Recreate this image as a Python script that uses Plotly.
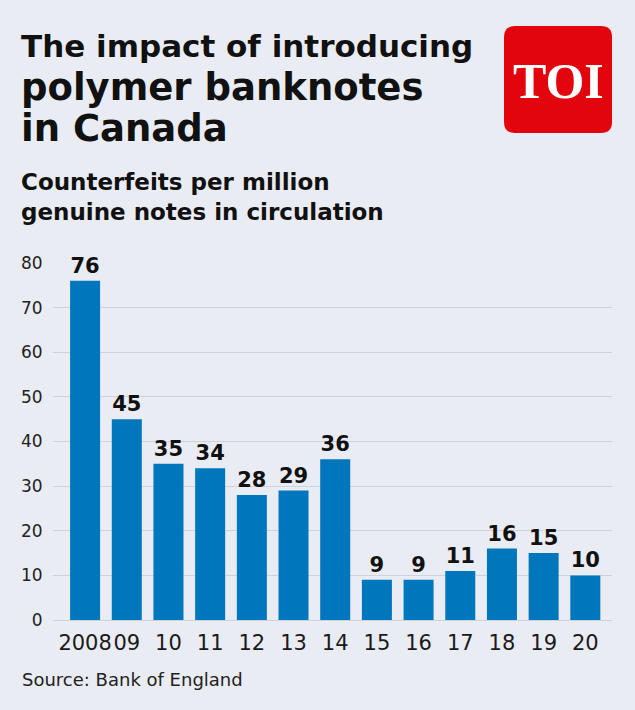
import plotly.graph_objects as go

years = ["2008", "09", "10", "11", "12", "13", "14", "15", "16", "17", "18", "19", "20"]
counterfeits = [76, 45, 35, 34, 28, 29, 36, 9, 9, 11, 16, 15, 10]
y_ticks = [0, 10, 20, 30, 40, 50, 60, 70, 80]

W, H = 635, 710
PL, PR, PT, PB = 53, 612, 263, 620  # plot area pixel box

BG = "#e9ecf3"
BAR = "#0077bd"
FONT = "DejaVu Sans"

def px(x):
    return (x - PL) / (PR - PL)

def py(y):
    return (PB - y) / (PB - PT)

fig = go.Figure(
    go.Bar(
        x=years,
        y=counterfeits,
        marker=dict(color=BAR, line=dict(width=0)),
        width=0.72,
        text=counterfeits,
        texttemplate="%{y}",
        textposition="outside",
        textfont=dict(family=FONT, size=21, color="#111111", weight=700),
        cliponaxis=False,
        hoverinfo="skip",
    )
)

annotations = []

def add_text(text, x, yc, size, weight, color="#111111"):
    annotations.append(dict(
        text=text, xref="paper", yref="paper", x=px(x), y=py(yc),
        xanchor="left", yanchor="middle", showarrow=False,
        font=dict(family=FONT, size=size, color=color, weight=weight),
    ))

add_text("The impact of introducing", 19, 46, 31, 700)
add_text("polymer banknotes", 19, 87, 37, 700)
add_text("in Canada", 19, 128, 37, 700)
add_text("Counterfeits per million", 19, 182, 23, 700)
add_text("genuine notes in circulation", 19, 212, 23, 700)
add_text("Source: Bank of England", 20, 679, 18, 400, "#222222")

# TOI logo
lx0, lx1, ly0, ly1, r = 504, 612, 26, 133, 11
def P(x, y):
    return f"{px(x)},{py(y)}"
path = (
    f"M {P(lx0 + r, ly0)} L {P(lx1 - r, ly0)} Q {P(lx1, ly0)} {P(lx1, ly0 + r)} "
    f"L {P(lx1, ly1 - r)} Q {P(lx1, ly1)} {P(lx1 - r, ly1)} "
    f"L {P(lx0 + r, ly1)} Q {P(lx0, ly1)} {P(lx0, ly1 - r)} "
    f"L {P(lx0, ly0 + r)} Q {P(lx0, ly0)} {P(lx0 + r, ly0)} Z"
)
shapes = [dict(type="path", xref="paper", yref="paper", path=path,
               fillcolor="#e2050e", line=dict(width=0), layer="above")]
annotations.append(dict(
    text="TOI", xref="paper", yref="paper", x=px(558), y=py(81),
    xanchor="center", yanchor="middle", showarrow=False,
    font=dict(family="Liberation Serif", size=50, color="white", weight=700),
))

fig.update_layout(
    width=W, height=H,
    margin=dict(l=PL, r=W - PR, t=PT, b=H - PB, pad=0),
    paper_bgcolor=BG, plot_bgcolor=BG,
    showlegend=False,
    bargap=0.28,
    annotations=annotations,
    shapes=shapes,
    xaxis=dict(
        type="category", range=[-0.77, 12.64],
        showgrid=False, zeroline=False, showline=False,
        tickangle=0,
        ticks="outside", ticklen=4, tickcolor="rgba(0,0,0,0)",
        tickfont=dict(family=FONT, size=21, color="#1a1a1a", weight=400),
    ),
    yaxis=dict(
        range=[0, 80], tickvals=y_ticks,
        showgrid=True, gridcolor="#cdd2db", gridwidth=1,
        zeroline=True, zerolinecolor="#cdd2db", zerolinewidth=1,
        showline=False,
        ticks="outside", ticklen=6, tickcolor="rgba(0,0,0,0)",
        tickfont=dict(family=FONT, size=17, color="#222222", weight=400),
    ),
)

fig.write_html("out.html")
